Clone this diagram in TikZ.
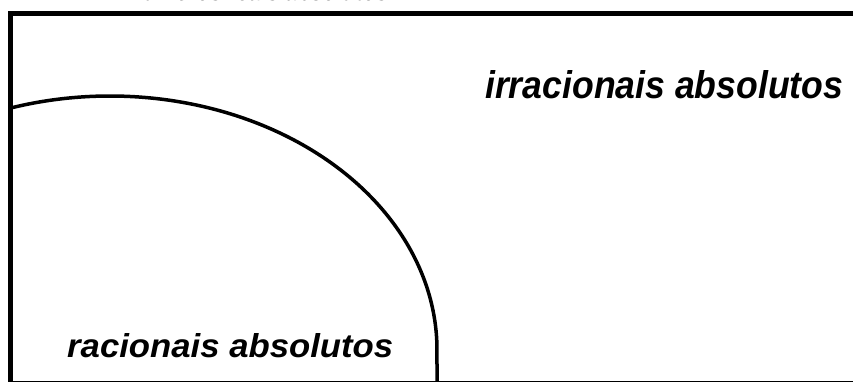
\documentclass[tikz,border=0pt]{standalone}
\usepackage{fontspec}
\setmainfont{Liberation Sans}
\tikzset{
  px/.style={x=1bp,y=-1bp},
  setbox/.style={line width=5bp},
  subset/.style={line width=3.5bp},
  lbl/.style={inner sep=0pt,font=\bfseries\itshape}
}
\begin{document}
\begin{tikzpicture}[px]
\useasboundingbox (0,0) rectangle (853,381);
\clip (0,0) rectangle (853,381);
% title (only its lower edge is visible)
\node[lbl,anchor=base west] (title) at (130,0) {\resizebox{258bp}{20bp}{números reais absolutos}};
% outer set
\draw[setbox] (10.5,13) rectangle (870,383);
% subset boundary: quarter ellipse then vertical line
\draw[subset] (12,{350-254*sqrt(1-(98/327)^2)})
  arc[start angle={180-acos(-98/327)+180}, end angle=360, x radius=327, y radius=254]
  -- (437,390);
\node[lbl,anchor=base west] (irr) at (485,98) {\resizebox{358bp}{28bp}{irracionais absolutos}};
\node[lbl,anchor=base west] (rac) at (67,357) {\resizebox{326bp}{24bp}{racionais absolutos}};
\end{tikzpicture}
\end{document}
